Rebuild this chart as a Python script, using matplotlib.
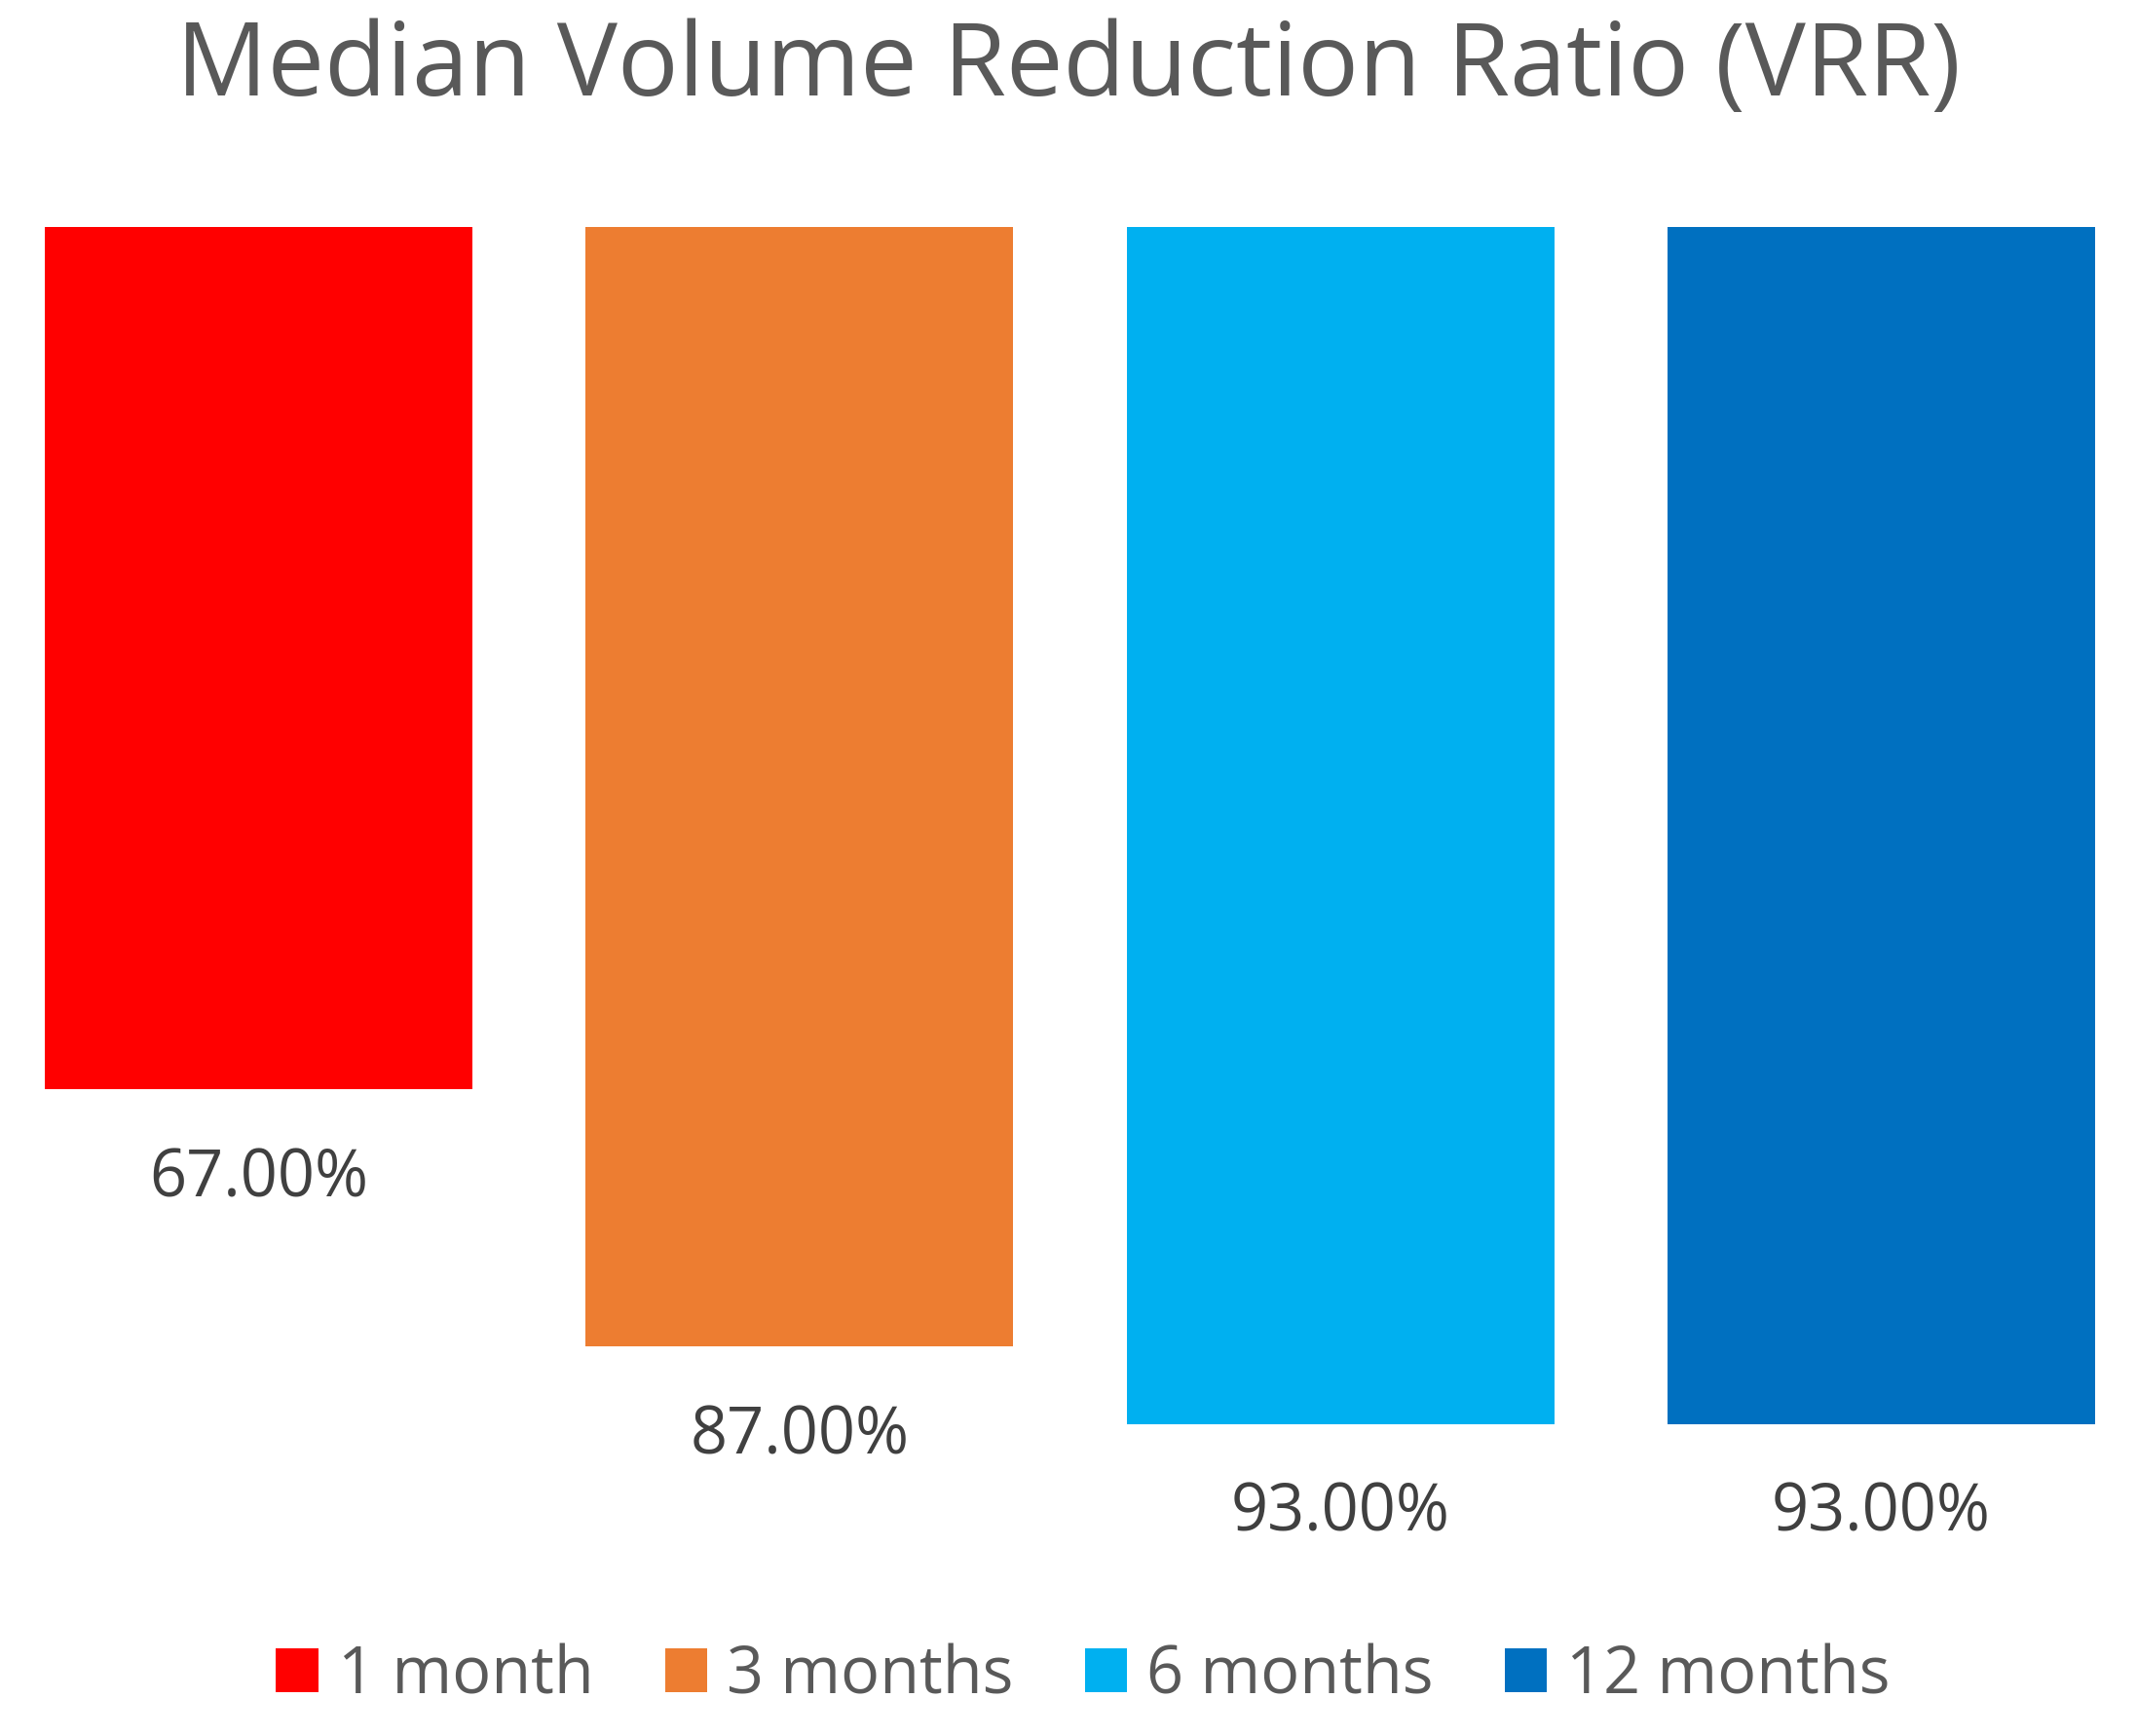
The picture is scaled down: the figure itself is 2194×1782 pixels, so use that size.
import matplotlib
matplotlib.use("Agg")
import matplotlib.pyplot as plt
from matplotlib.patches import Patch

categories = ["1 month", "3 months", "6 months", "12 months"]
values = [67.0, 87.0, 93.0, 93.0]
labels = ["67.00%", "87.00%", "93.00%", "93.00%"]
colors = ["#FF0000", "#ED7D31", "#00B0F0", "#0070C0"]

FONT = ["Open Sans", "DejaVu Sans"]
plt.rcParams["font.family"] = FONT

W, H = 2194, 1783
fig = plt.figure(figsize=(W / 100, H / 100), dpi=100)
ax = fig.add_axes([46 / W, 1 - 1555 / H, (2151 - 46) / W, (1555 - 234) / H])

x = list(range(len(categories)))
bw = 0.791
ax.bar(x, values, width=bw, color=colors)
ax.set_xlim(-bw / 2, len(categories) - 1 + bw / 2)
ax.set_ylim(100, 0)
ax.axis("off")

for xi, v, lab in zip(x, values, labels):
    ax.annotate(lab, xy=(xi, v), xytext=(0, -78.5), textcoords="offset points",
                ha="center", va="baseline", fontsize=48, color="#404040")

fig.text(0.5, 1 - 98 / H, "Median Volume Reduction Ratio (VRR)", ha="center",
         va="baseline", fontsize=75, color="#595959")

handles = [Patch(facecolor=c, edgecolor="none") for c in colors]
leg = fig.legend(handles, categories, loc="center", bbox_to_anchor=(1112 / W, 1 - 1721 / H),
                 ncol=4, frameon=False, fontsize=48, handlelength=0.65, handleheight=0.65,
                 handletextpad=0.3, columnspacing=1.1, borderaxespad=0)
for t in leg.get_texts():
    t.set_color("#595959")

fig.savefig("out.png", dpi=100)
